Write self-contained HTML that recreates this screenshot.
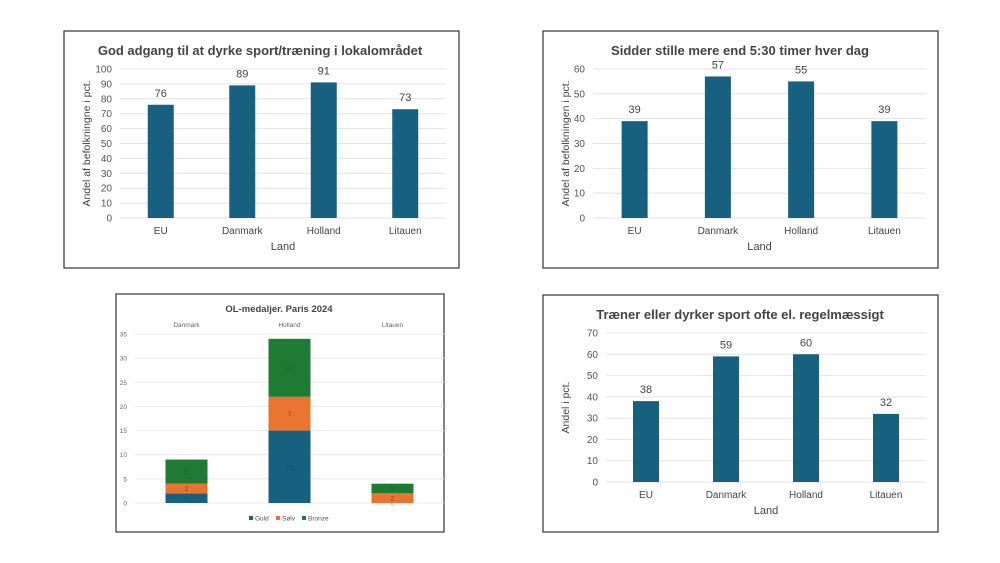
<!DOCTYPE html>
<html><head><meta charset="utf-8"><style>
body{margin:0;background:#fff;width:1000px;height:563px;overflow:hidden;font-family:"Liberation Sans",sans-serif}
svg{position:absolute;left:0;top:0}
</style></head><body>
<svg id="s" width="1000" height="563"></svg>
<script>
const c1Cats=["EU","Danmark","Holland","Litauen"];
const c1Vals=[76,89,91,73];
const c1Ticks=[0,10,20,30,40,50,60,70,80,90,100];
const c2Cats=["EU","Danmark","Holland","Litauen"];
const c2Vals=[39,57,55,39];
const c2Ticks=[0,10,20,30,40,50,60];
const c4Cats=["EU","Danmark","Holland","Litauen"];
const c4Vals=[38,59,60,32];
const c4Ticks=[0,10,20,30,40,50,60,70];
const c3Cats=["Danmark","Holland","Litauen"];
const c3Series=["Guld","Sølv","Bronze"];
const c3Guld=[2,15,0];
const c3Solv=[2,7,2];
const c3Bronze=[5,12,2];
const c3Ticks=[0,5,10,15,20,25,30,35];

const S=document.getElementById('s');const NS="http://www.w3.org/2000/svg";
function el(t,a,txt){const e=document.createElementNS(NS,t);for(const k in a)e.setAttribute(k,a[k]);if(txt!==undefined)e.textContent=txt;S.appendChild(e);return e;}

function barChart(o){
  const box=el('rect',{x:o.bx,y:o.by,width:o.bw,height:o.bh,fill:'#fff',stroke:'#333','stroke-width':1.2});
  
  const t=el('text',{x:o.tx,y:o.by+24,'text-anchor':'middle','font-size':13,'font-weight':'bold',fill:'#444'},o.title);
  
  const max=o.ticks[o.ticks.length-1];
  const y=v=>o.y0-(o.y0-o.yTop)*v/max;
  const step=(o.x1-o.x0)/o.cats.length;
  const x=i=>o.x0+step*(i+0.5);
  o.ticks.forEach(tv=>{
    const g=el('line',{x1:o.x0,x2:o.x1,y1:y(tv),y2:y(tv),stroke:'#e3e3e3','stroke-width':1});
    
    const l=el('text',{x:o.x0-8,y:y(tv)+3.5,'text-anchor':'end','font-size':10,fill:'#555'},tv);
    
  });
  o.cats.forEach((cat,i)=>{
    const v=o.vals[i];
    const b=el('rect',{x:x(i)-13,y:y(v),width:26,height:o.y0-y(v),fill:'#17607f'});
    
    const vl=el('text',{x:x(i),y:y(v)-8,'text-anchor':'middle','font-size':11,fill:'#444'},v);
    
    const cl=el('text',{x:x(i),y:o.y0+16,'text-anchor':'middle','font-size':10,fill:'#444'},cat);
    
  });
  const xt=el('text',{x:(o.x0+o.x1)/2,y:o.y0+32,'text-anchor':'middle','font-size':11,fill:'#444'},'Land');
  
  const yt=el('text',{x:0,y:0,'text-anchor':'middle','font-size':10.5,fill:'#444',transform:`translate(${o.ytx},${(o.y0+o.yTop)/2}) rotate(-90)`},o.ytitle);
  
}
barChart({name:'chart-access',bx:64,by:31,bw:395,bh:237,tx:260,title:'God adgang til at dyrke sport/træning i lokalområdet',cats:c1Cats,vals:c1Vals,ticks:c1Ticks,x0:120,x1:446,y0:218,yTop:69,ytitle:'Andel af befolkningne i pct.',ytx:90});
barChart({name:'chart-sitting',bx:543,by:31,bw:395,bh:237,tx:740,title:'Sidder stille mere end 5:30 timer hver dag',cats:c2Cats,vals:c2Vals,ticks:c2Ticks,x0:593,x1:926,y0:218,yTop:69,ytitle:'Andel af befolkningen i pct.',ytx:569});
barChart({name:'chart-training',bx:543,by:295,bw:395,bh:237,tx:740,title:'Træner eller dyrker sport ofte el. regelmæssigt',cats:c4Cats,vals:c4Vals,ticks:c4Ticks,x0:606,x1:926,y0:482,yTop:333,ytitle:'Andel i pct.',ytx:569});

// medal chart
(function(){
  const bx=116,by=294,bw=328,bh=238;
  const f=el('rect',{x:bx,y:by,width:bw,height:bh,fill:'#fff',stroke:'#333','stroke-width':1.2});
  
  const t=el('text',{x:279,y:312,'text-anchor':'middle','font-size':9.5,'font-weight':'bold',fill:'#444'},'OL-medaljer. Paris 2024');
  
  const x0=135,x1=444,y0=503,yTop=334,max=35;
  const y=v=>y0-(y0-yTop)*v/max;
  const step=(x1-x0)/c3Cats.length;
  const x=i=>x0+step*(i+0.5);
  c3Ticks.forEach(tv=>{
    const g=el('line',{x1:x0,x2:x1,y1:y(tv),y2:y(tv),stroke:'#e8e8e8','stroke-width':1});
    
    const l=el('text',{x:127,y:y(tv)+2.5,'text-anchor':'end','font-size':6.5,fill:'#666'},tv);
    
  });
  const series=[c3Guld,c3Solv,c3Bronze];const cols=['#17607f','#e8742f','#1f7a33'];
  c3Cats.forEach((cat,i)=>{
    const cl=el('text',{x:x(i),y:327,'text-anchor':'middle','font-size':6.5,fill:'#666'},cat);
    
    let acc=0;
    series.forEach((s,k)=>{
      const v=s[i];const yb=y(acc),yt=y(acc+v);
      const r=el('rect',{x:x(i)-21,y:yt,width:42,height:yb-yt,fill:cols[k]});
      
      const lb=el('text',{x:x(i),y:(yt+yb)/2+2.5,'text-anchor':'middle','font-size':6.5,fill:k==1?'#8a3a10':'#10445a','fill-opacity':k==1?1:0.5},v);
      
      acc+=v;
    });
  });
  const lx=[249,276,302];
  c3Series.forEach((n,k)=>{
    const r=el('rect',{x:lx[k],y:516,width:4,height:4,fill:cols[k]});
    
    const tt=el('text',{x:lx[k]+6,y:520.5,'font-size':6.5,fill:'#555'},n);
    
  });
})();
</script>
</body></html>
